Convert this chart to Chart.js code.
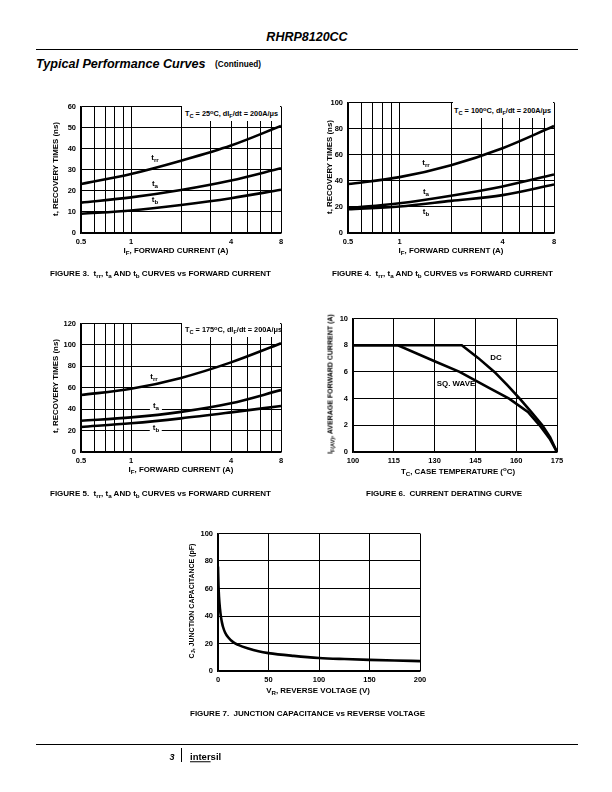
<!DOCTYPE html>
<html lang="en">
<head>
<meta charset="UTF-8">
<title>RHRP8120CC Typical Performance Curves</title>
<script src="https://cdn.jsdelivr.net/npm/chart.js"></script>
<style>
  body { margin:0; width:612px; height:792px; position:relative; background:#fff; color:#000;
         font-family:'Liberation Sans', Arial, Helvetica, sans-serif; overflow:hidden; }
  canvas { position:absolute; }
  .t { position:absolute; white-space:nowrap; font-weight:bold; font-size:7px; line-height:1; }
  .rule { position:absolute; background:#000; }
  sub { font-size:0.78em; vertical-align:-0.35em; line-height:0; }
  sup { font-size:0.78em; vertical-align:0.45em; line-height:0; }
</style>
</head>
<body>
<div class="rule" style="left:36px;top:49px;width:542px;height:1.3px"></div>
<div class="rule" style="left:36px;top:744px;width:542px;height:1.3px"></div>
<div class="rule" style="left:181px;top:748px;width:1px;height:14px"></div>

<script>
// ---- data ----
const ifCurrent = [0.5, 1, 2, 4, 8];           // A
const trr25 = [23.2, 28.0, 34.3, 41.5, 50.8];
const ta25  = [14.4, 16.9, 20.4, 24.9, 30.7];
const tb25  = [9.1, 10.7, 13.3, 16.5, 20.5];
const trr100 = [37.5, 42.8, 52.0, 65.0, 82.0];
const ta100  = [19.0, 22.8, 28.6, 35.7, 44.8];
const tb100  = [18.2, 20.3, 24.6, 29.0, 37.2];
const trr175 = [53.2, 59.0, 69.2, 83.7, 101.5];
const ta175  = [29.2, 32.3, 37.5, 45.5, 57.8];
const tb175  = [23.4, 26.8, 31.4, 37.0, 43.0];
const logGrid   = [0.5, 0.6, 0.7, 0.8, 0.9, 1, 2, 3, 4, 5, 6, 7, 8];
const logLabels = [0.5, 1, 4, 8];

const dcTemp = [100, 140, 146, 152, 157, 161.3, 165.5, 169.6, 172.5, 175];
const dcAmps = [8, 8, 7.05, 6.0, 4.95, 4.0, 3.0, 2.0, 1.1, 0];
const sqTemp = [100, 116.5, 130, 139.2, 150, 157.4, 164.3, 168.6, 172.3, 175];
const sqAmps = [8, 8, 6.8, 6.0, 4.8, 4.0, 3.0, 2.0, 1.0, 0];

const vr = [0, 0.5, 1, 2, 3, 4, 5, 7, 10, 15, 20, 30, 40, 50, 75, 100, 125, 150, 175, 200];
const cj = [76, 62, 54, 45, 39, 35, 32, 28, 24.5, 21, 19, 16.3, 14.3, 13, 11, 9.5, 8.7, 8.1, 7.6, 7.2];

// ---- helpers ----
const YW = 30, XH = 16, PT = 8, PR = 14;
const tickFont = { family: 'Liberation Sans', size: 7.5, weight: 'bold' };

function pts(xs, ys) { return xs.map((x, i) => ({ x, y: ys[i] })); }

function curve(data, smooth) {
  return { data, borderColor: '#000', borderWidth: 2.6, pointRadius: 0, fill: false,
           tension: 0, cubicInterpolationMode: smooth ? 'monotone' : 'default' };
}

function axis(o) {
  const a = {
    type: o.type || 'linear', min: o.min, max: o.max,
    grid: { color: '#000', lineWidth: 1, drawTicks: false },
    border: { color: '#000', width: 1.5 },
    ticks: { color: '#000', font: tickFont, padding: o.pad, autoSkip: false, maxRotation: 0 }
  };
  if (o.step) a.ticks.stepSize = o.step;
  if (o.grid) {
    a.afterBuildTicks = s => { s.ticks = o.grid.map(v => ({ value: v })); };
    a.ticks.callback = v => o.labels.includes(v) ? String(v) : '';
  }
  a.afterFit = o.horiz ? (s => { s.height = XH; }) : (s => { s.width = YW; });
  return a;
}

function chart(box, datasets, xo, yo) {
  const cv = document.createElement('canvas');
  const w = box.r - box.l + YW + PR, h = box.b - box.t + PT + XH;
  cv.width = w; cv.height = h;
  cv.style.left = (box.l - YW) + 'px'; cv.style.top = (box.t - PT) + 'px';
  cv.style.width = w + 'px'; cv.style.height = h + 'px';
  document.body.appendChild(cv);
  new Chart(cv, {
    type: 'line',
    data: { datasets },
    options: {
      responsive: false, animation: false,
      layout: { padding: { top: PT, right: PR, left: 0, bottom: 0 } },
      plugins: { legend: { display: false }, tooltip: { enabled: false } },
      scales: { x: axis(Object.assign({ horiz: true, pad: 4 }, xo)), y: axis(Object.assign({ pad: 5 }, yo)) }
    }
  });
}

function txt(html, x, y, o = {}) {
  const d = document.createElement('div');
  d.className = 't';
  d.innerHTML = html;
  d.style.left = x + 'px'; d.style.top = y + 'px';
  if (o.size) d.style.fontSize = o.size + 'px';
  if (o.italic) d.style.fontStyle = 'italic';
  if (o.bg) { d.style.background = '#fff'; d.style.padding = o.bg; }
  const ax = o.align === 'left' ? '0' : '-50%';
  d.style.transform = `translate(${ax},-50%)` + (o.rot ? ' rotate(-90deg)' : '');
  document.body.appendChild(d);
  return d;
}

function whiteBox(l, t, r, b) {
  const d = document.createElement('div');
  d.style.cssText = `position:absolute;background:#fff;left:${l}px;top:${t}px;width:${r - l}px;height:${b - t}px`;
  document.body.appendChild(d);
}

// ---- charts ----
const logX = { type: 'logarithmic', min: 0.5, max: 8, grid: logGrid, labels: logLabels };

const f3 = { l: 81, t: 105, r: 281, b: 233 };
chart(f3, [curve(pts(ifCurrent, trr25), true), curve(pts(ifCurrent, ta25), true), curve(pts(ifCurrent, tb25), true)],
      logX, { min: 0, max: 60, step: 10 });

const f4 = { l: 348, t: 101, r: 554, b: 233 };
chart(f4, [curve(pts(ifCurrent, trr100), true), curve(pts(ifCurrent, ta100), true), curve(pts(ifCurrent, tb100), true)],
      logX, { min: 0, max: 100, step: 20 });

const f5 = { l: 81, t: 322, r: 281, b: 452 };
chart(f5, [curve(pts(ifCurrent, trr175), true), curve(pts(ifCurrent, ta175), true), curve(pts(ifCurrent, tb175), true)],
      logX, { min: 0, max: 120, step: 20 });

const f6 = { l: 353, t: 317, r: 557, b: 452 };
chart(f6, [curve(pts(dcTemp, dcAmps), false), curve(pts(sqTemp, sqAmps), false)],
      { min: 100, max: 175, step: 15 }, { min: 0, max: 10, step: 2 });

const f7 = { l: 218, t: 532, r: 420, b: 671 };
chart(f7, [curve(pts(vr, cj), true)],
      { min: 0, max: 200, step: 50 }, { min: 0, max: 100, step: 20 });

// ---- page text ----
txt('RHRP8120CC', 307, 37, { size: 12.5, italic: true });
txt('Typical Performance Curves', 36, 64, { size: 12.6, italic: true, align: 'left' });
txt('(Continued)', 215, 65, { size: 8.2, align: 'left' });

const cond = t => `T<sub>C</sub> = ${t}<sup>o</sup>C, dI<sub>F</sub>/dt = 200A/&mu;s`;
whiteBox(182, 106, 280, 121);
txt(cond(25), 185, 114, { size: 7.3, align: 'left' });
whiteBox(453, 102, 553, 118);
txt(cond(100), 454, 111, { size: 7.3, align: 'left' });
whiteBox(182, 323, 280, 337);
txt(cond(175), 185, 330, { size: 7.3, align: 'left' });

const yTitle = 't, RECOVERY TIMES (ns)';
const xTitle = 'I<sub>F</sub>, FORWARD CURRENT (A)';
const ax = { size: 7.9 };
txt(yTitle, 56, 169, { size: 7.9, rot: true });
txt(xTitle, 176, 251, ax);
txt(yTitle, 330, 167, { size: 7.9, rot: true });
txt(xTitle, 451, 251, ax);
txt(yTitle, 56, 386, { size: 7.9, rot: true });
txt(xTitle, 181, 470, ax);

// curve tags
const big = { size: 8 };
txt('t<sub>rr</sub>', 155, 158, big);
txt('t<sub>a</sub>', 155, 184, big);
txt('t<sub>b</sub>', 155, 200, big);
txt('t<sub>rr</sub>', 426, 163, big);
txt('t<sub>a</sub>', 426, 192, big);
txt('t<sub>b</sub>', 426, 212, big);
txt('t<sub>rr</sub>', 154, 377, big);
txt('t<sub>a</sub>', 156, 406, { size: 8, bg: '0 3px' });
txt('t<sub>b</sub>', 156, 428, { size: 8, bg: '0 3px' });

txt('I<sub>F(AV)</sub>, AVERAGE FORWARD CURRENT (A)', 330, 384, { size: 7, rot: true });
txt('T<sub>C</sub>, CASE TEMPERATURE (<sup>o</sup>C)', 458, 472, ax);
txt('DC', 496, 358, ax);
txt('SQ. WAVE', 456, 384, ax);

txt('C<sub>J</sub>, JUNCTION CAPACITANCE (pF)', 191, 601, { size: 7, rot: true });
txt('V<sub>R</sub>, REVERSE VOLTAGE (V)', 318, 691, ax);

// captions
const capTr = n => `FIGURE ${n}.&nbsp; t<sub>rr</sub>, t<sub>a</sub> AND t<sub>b</sub> CURVES vs FORWARD CURRENT`;
const cap = { size: 8, align: 'left' };
txt(capTr(3), 50, 274, cap);
txt(capTr(4), 332, 274, cap);
txt(capTr(5), 50, 494, cap);
txt('FIGURE 6.&nbsp; CURRENT DERATING CURVE', 366, 494, cap);
txt('FIGURE 7.&nbsp; JUNCTION CAPACITANCE vs REVERSE VOLTAGE', 190, 714, cap);

// footer
txt('3', 172, 757, { size: 9, italic: true });
txt('<u>inter</u>sil', 190, 757, { size: 9.5, align: 'left' });
</script>
</body>
</html>
